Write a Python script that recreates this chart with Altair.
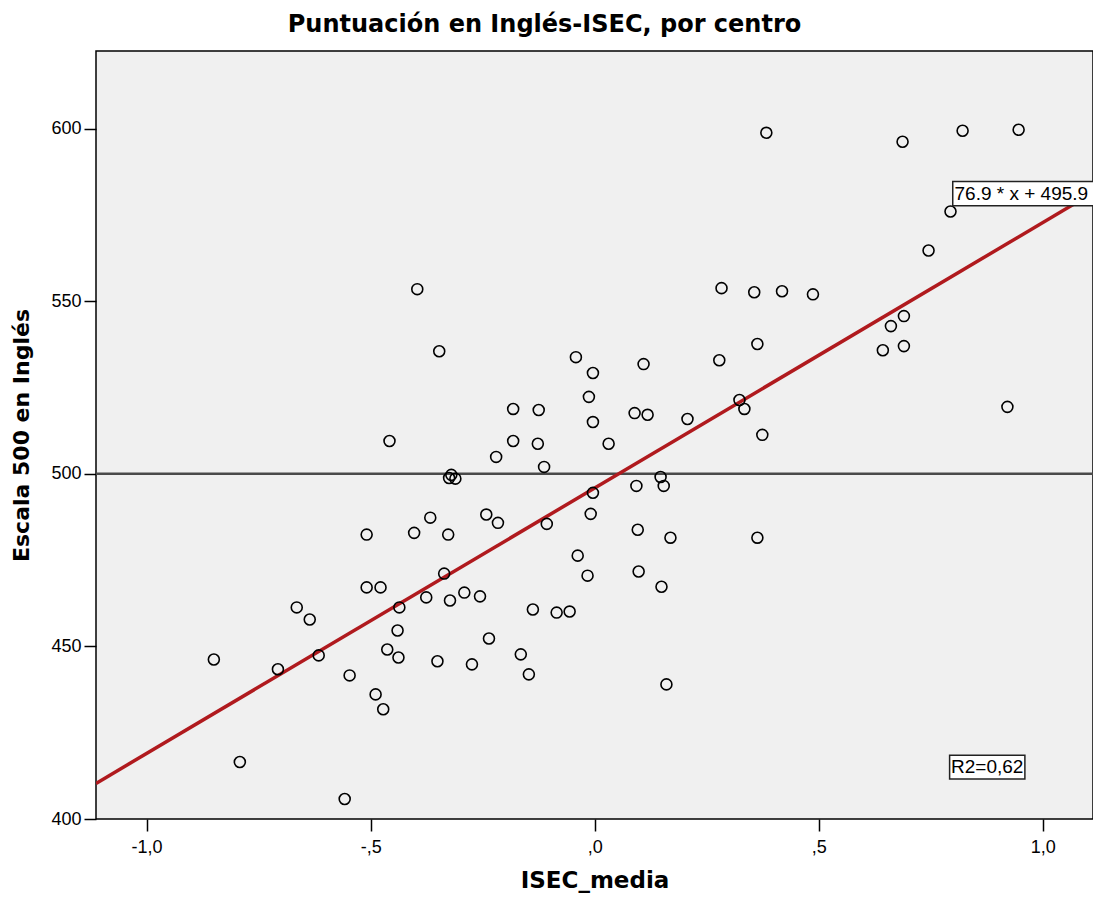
import altair as alt
import pandas as pd

# ---- data ----
isec = [-0.850, -0.792, -0.707, -0.665, -0.636, -0.616, -0.547, -0.558, -0.509, -0.509,
        -0.489, -0.478, -0.472, -0.463, -0.458, -0.436, -0.440, -0.438, -0.403, -0.396,
        -0.376, -0.367, -0.351, -0.347, -0.336, -0.327, -0.323, -0.325, -0.320, -0.311,
        -0.291, -0.274, -0.256, -0.242, -0.236, -0.220, -0.216, -0.182, -0.182, -0.165,
        -0.147, -0.138, -0.127, -0.125, -0.113, -0.107, -0.085, -0.056, -0.042, -0.038,
        -0.016, -0.013, -0.009, -0.004, -0.004, -0.004, 0.031, 0.089, 0.093, 0.096,
        0.098, 0.109, 0.118, 0.147, 0.149, 0.154, 0.160, 0.169, 0.207, 0.278,
        0.283, 0.323, 0.334, 0.356, 0.363, 0.363, 0.374, 0.383, 0.418, 0.487,
        0.643, 0.661, 0.687, 0.690, 0.690, 0.745, 0.794, 0.821, 0.921, 0.946]
score = [446.2, 416.5, 443.4, 461.3, 457.8, 447.4, 441.6, 405.8, 482.4, 467.1,
         436.1, 467.1, 431.8, 449.1, 509.5, 461.3, 454.6, 446.8, 482.9, 553.5,
         464.2, 487.3, 445.7, 535.5, 471.1, 482.4, 463.3, 498.8, 499.7, 498.6,
         465.6, 444.8, 464.5, 488.2, 452.3, 504.9, 485.8, 509.5, 518.8, 447.7,
         441.9, 460.7, 508.7, 518.5, 502.0, 485.5, 459.8, 460.1, 533.8, 476.3,
         470.5, 522.3, 488.4, 529.2, 515.0, 494.5, 508.7, 517.6, 496.5, 483.8,
         471.7, 531.8, 517.1, 499.1, 467.3, 496.5, 439.0, 481.5, 515.9, 532.9,
         553.8, 521.4, 518.8, 552.6, 537.6, 481.5, 511.3, 598.8, 552.9, 552.0,
         535.8, 542.8, 596.2, 545.7, 537.0, 564.7, 576.0, 599.4, 519.4, 599.7]

slope = 76.9
intercept = 495.9
ref_value = 500

x_domain = [-1.113, 1.112]
y_domain = [400, 622.5]
x_ticks = [-1.0, -0.5, 0.0, 0.5, 1.0]
x_tick_labels = ["-1,0", "-,5", ",0", ",5", "1,0"]
y_ticks = [400, 450, 500, 550, 600]

title_text = "Puntuación en Inglés-ISEC, por centro"
x_title = "ISEC_media"
y_title = "Escala 500 en Inglés"
eq_label = "76.9 * x + 495.9"
r2_label = "R2=0,62"

# ---- tables ----
pts = pd.DataFrame({"x": isec, "y": score})
fit = pd.DataFrame({"x": x_domain, "y": [slope * v + intercept for v in x_domain]})
ref = pd.DataFrame({"y": [ref_value]})
eq_df = pd.DataFrame({"x": [0.799], "x2": [1.3], "y": [577.7], "y2": [584.7],
                      "tx": [0.803], "ty": [581.2], "label": [eq_label]})
r2_df = pd.DataFrame({"x": [0.792], "x2": [0.960], "y": [411.6], "y2": [418.5],
                      "tx": [0.876], "ty": [415.0], "label": [r2_label]})

label_expr = "[" + ",".join('"%s"' % s for s in x_tick_labels) + "][indexof([" + \
    ",".join(str(v) for v in x_ticks) + "], datum.value)]"

xs = alt.Scale(domain=x_domain, nice=False, zero=False)
ys = alt.Scale(domain=y_domain, nice=False, zero=False)

x_axis = alt.Axis(values=x_ticks, labelExpr=label_expr, title=x_title, grid=False,
                  domain=False, tickSize=12, tickWidth=1.5, tickColor="black",
                  labelFont="Liberation Sans", labelFontSize=18, labelColor="black",
                  labelPadding=7, titleFont="DejaVu Sans", titleFontSize=23,
                  titleFontWeight="bold", titleColor="black", titlePadding=13)
y_axis = alt.Axis(values=y_ticks, title=y_title, grid=False, domain=False,
                  tickSize=12, tickWidth=1.5, tickColor="black",
                  labelFont="Liberation Sans", labelFontSize=18, labelColor="black",
                  labelPadding=3, titleFont="DejaVu Sans", titleFontSize=22,
                  titleFontWeight="bold", titleColor="black", titlePadding=17)

points = alt.Chart(pts).mark_point(shape="circle", filled=False, size=120,
                                   strokeWidth=1.6, color="black", opacity=1).encode(
    x=alt.X("x:Q", scale=xs, axis=x_axis),
    y=alt.Y("y:Q", scale=ys, axis=y_axis),
)

ref_line = alt.Chart(ref).mark_rule(color="#4a4a4a", strokeWidth=2.5).encode(
    y=alt.Y("y:Q", scale=ys)
)

fit_line = alt.Chart(fit).mark_line(color="#B01A1E", strokeWidth=3.5, clip=True).encode(
    x=alt.X("x:Q", scale=xs), y=alt.Y("y:Q", scale=ys)
)

def label_box(df):
    return alt.Chart(df).mark_rect(fill="white", stroke="#222", strokeWidth=1.5,
                                   clip=True).encode(
        x=alt.X("x:Q", scale=xs), x2="x2:Q",
        y=alt.Y("y:Q", scale=ys), y2="y2:Q")

def label_text(df, align):
    return alt.Chart(df).mark_text(font="Liberation Sans", fontSize=19, color="black",
                                   align=align, baseline="middle", clip=True).encode(
        x=alt.X("tx:Q", scale=xs), y=alt.Y("ty:Q", scale=ys), text="label:N")

chart = alt.layer(
    ref_line, fit_line, points,
    label_box(eq_df), label_text(eq_df, "left"),
    label_box(r2_df), label_text(r2_df, "center"),
).properties(
    width=997, height=768,
    title=alt.TitleParams(title_text, font="DejaVu Sans", fontSize=24, fontWeight="bold",
                          color="black", anchor="middle", offset=14, dx=-50),
    autosize=alt.AutoSizeParams(type="none"),
    padding={"left": 88, "top": 43, "right": 0, "bottom": 75},
    background="white",
).configure_view(
    fill="#F0F0F0", stroke="black", strokeWidth=1.5
)

chart.save("out.html", embed_options={"renderer": "svg", "actions": False})
